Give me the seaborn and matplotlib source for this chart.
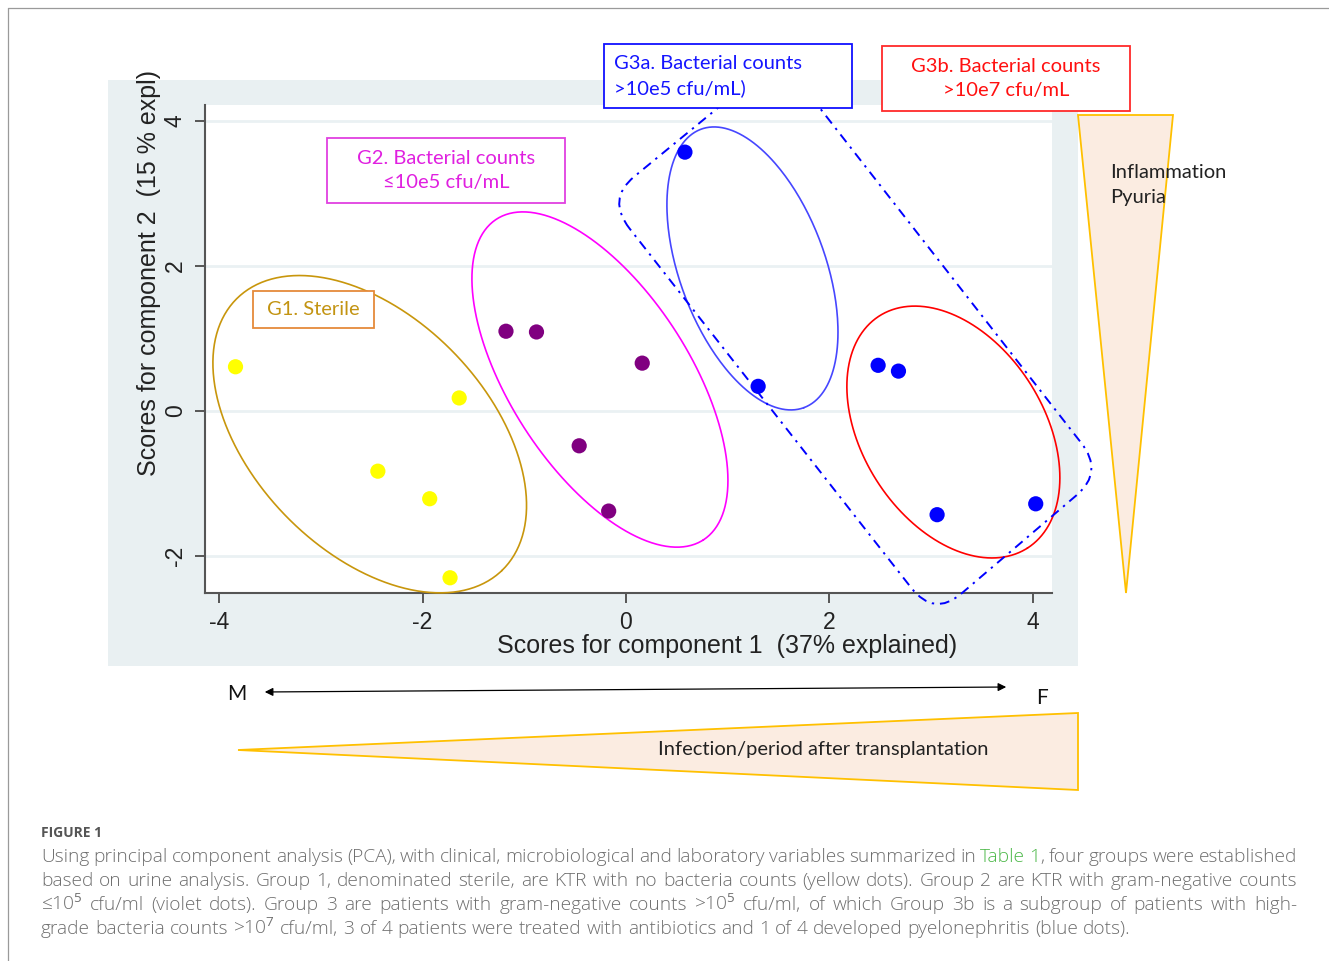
import re
import numpy as np
import pandas as pd
import matplotlib
matplotlib.use("Agg")
import matplotlib.pyplot as plt
import seaborn as sns
from matplotlib.patches import Polygon, Rectangle, PathPatch, FancyArrowPatch
from matplotlib.path import Path

# PCA scores
g1_pc1 = [-3.84, -1.64, -2.44, -1.93, -1.73]
g1_pc2 = [0.61, 0.18, -0.83, -1.21, -2.30]
g2_pc1 = [-1.18, -0.88, 0.16, -0.46, -0.17]
g2_pc2 = [1.10, 1.09, 0.66, -0.48, -1.38]
g3_pc1 = [0.58, 1.30, 2.48, 2.68, 3.06, 4.03]
g3_pc2 = [3.57, 0.34, 0.63, 0.55, -1.43, -1.28]

x_ticks = [-4, -2, 0, 2, 4]
y_ticks = [-2, 0, 2, 4]

# group outlines (centre, two semi-diameters, all in score units)
ellipses = {
    "G1": ((-2.52, -0.32), (1.30, -1.88), (0.83, 1.12), "#C8960C"),
    "G2": ((-0.256, 0.434), (1.017, -2.212), (0.742, 0.672), "#FF00FF"),
    "G3a": ((1.244, 1.966), (0.506, -1.920), (0.672, 0.349), "#4646FF"),
    "G3b": ((3.220, -0.290), (0.728, -1.601), (0.753, 0.673), "#FF0000"),
}
g3_hull = [(-0.19, 2.92), (1.514, 4.883), (4.70, -0.84), (3.03, -2.84)]

caption_lines = [
    "Using principal component analysis (PCA), with clinical, microbiological and laboratory variables summarized in [Table] [1], four groups were established",
    "based on urine analysis. Group 1, denominated sterile, are KTR with no bacteria counts (yellow dots). Group 2 are KTR with gram-negative counts",
    "\u226410$^5$ cfu/ml (violet dots). Group 3 are patients with gram-negative counts >10$^5$ cfu/ml, of which Group 3b is a subgroup of patients with high-",
    "grade bacteria counts >10$^7$ cfu/ml, 3 of 4 patients were treated with antibiotics and 1 of 4 developed pyelonephritis (blue dots).",
]

df = pd.DataFrame({
    "pc1": g1_pc1 + g2_pc1 + g3_pc1,
    "pc2": g1_pc2 + g2_pc2 + g3_pc2,
    "group": ["G1"] * len(g1_pc1) + ["G2"] * len(g2_pc1) + ["G3"] * len(g3_pc1),
})
cores = {"G1": "#FFFF00", "G2": "#800080", "G3": "#0000FF"}

sns.set_theme(style="white")
plt.rcParams["font.family"] = ["Lato", "DejaVu Sans"]
stata_font = ["Liberation Sans Narrow", "Liberation Sans", "DejaVu Sans"]
cap_font = ["Open Sans", "DejaVu Sans"]
plt.rcParams["mathtext.fontset"] = "custom"
plt.rcParams["mathtext.rm"] = "Open Sans"
plt.rcParams["mathtext.it"] = "Open Sans:italic"
plt.rcParams["mathtext.bf"] = "Open Sans:bold"

W, H = 1329, 961
fig = plt.figure(figsize=(W / 100, H / 100), dpi=100)


def fx(px):
    return px / W


def fy(py):
    return 1 - py / H


# moldura e fundo cinza do gráfico (estilo Stata)
fig.add_artist(plt.Line2D([fx(8), 1], [fy(8), fy(8)], color="#9a9a9a", lw=0.9))
fig.add_artist(plt.Line2D([fx(8), fx(8)], [fy(8), 0], color="#9a9a9a", lw=0.9))
fig.add_artist(Rectangle((fx(108), fy(666)), (1078 - 108) / W, (666 - 80) / H,
                         transform=fig.transFigure, facecolor="#E9F0F2",
                         edgecolor="none", zorder=-1))

ax = fig.add_axes([fx(205), fy(593), (1052 - 205) / W, (593 - 105) / H])
sns.scatterplot(data=df, x="pc1", y="pc2", hue="group", palette=cores,
                s=120, linewidth=0, legend=False, ax=ax, zorder=4)
ax.set_xlim(-4.14, 4.19)
ax.set_ylim(-2.51, 4.22)
ax.set_xticks(x_ticks)
ax.set_yticks(y_ticks)
ax.set_xticklabels([str(v) for v in x_ticks], family=stata_font, fontsize=16.5, color="#222222")
ax.set_yticklabels([str(v) for v in y_ticks], family=stata_font, fontsize=16.5, color="#222222",
                   rotation=90, va="center")
ax.tick_params(axis="both", length=7, width=1.4, color="#555555", pad=6, left=True, bottom=True)
ax.yaxis.grid(True, color="#EAF1F3", lw=2)
ax.xaxis.grid(False)
for s in ["top", "right"]:
    ax.spines[s].set_visible(False)
for s in ["left", "bottom"]:
    ax.spines[s].set_color("#555555")
    ax.spines[s].set_linewidth(1.5)
ax.set_xlabel("Scores for component 1  (37% explained)", family=stata_font, fontsize=18, color="#222222")
ax.set_ylabel("Scores for component 2  (15 % expl)", family=stata_font, fontsize=18, color="#222222")
ax.xaxis.set_label_coords(0.616, -0.085)
ax.yaxis.set_label_coords(-0.052, 0.655)

# elipses dos grupos
t = np.linspace(0, 2 * np.pi, 300)
for nome, (c, u, v, cor) in ellipses.items():
    ex = c[0] + u[0] * np.cos(t) + v[0] * np.sin(t)
    ey = c[1] + u[1] * np.cos(t) + v[1] * np.sin(t)
    ax.plot(ex, ey, color=cor, lw=1.2, clip_on=False, zorder=3)

# contorno tracejado do grupo 3 (retângulo de cantos arredondados)
fracs = [0.16, 0.07, 0.16, 0.07]  # fração de arredondamento por aresta
verts, codes = [], []
n = len(g3_hull)
for i in range(n):
    p = np.array(g3_hull[i])
    prev = np.array(g3_hull[i - 1])
    nxt = np.array(g3_hull[(i + 1) % n])
    a = p + fracs[i - 1] * (prev - p)
    b = p + fracs[i] * (nxt - p)
    verts.append(a)
    codes.append(Path.MOVETO if i == 0 else Path.LINETO)
    verts += [p, b]
    codes += [Path.CURVE3, Path.CURVE3]
verts.append(verts[0])
codes.append(Path.LINETO)
ax.add_patch(PathPatch(Path(verts, codes), fill=False, edgecolor="#0000FF", lw=1.4,
                       linestyle=(0, (5, 3, 1.2, 3)), clip_on=False, zorder=3))


# caixas de texto
def caixa(x0, y0, x1, y1, cor_borda, linhas, cor_texto, ha="center", tx=None):
    fig.add_artist(Rectangle((fx(x0), fy(y1)), (x1 - x0) / W, (y1 - y0) / H,
                             transform=fig.transFigure, facecolor="white",
                             edgecolor=cor_borda, lw=1.3, zorder=5))
    xt = (x0 + x1) / 2 if tx is None else tx
    fig.text(fx(xt), fy((y0 + y1) / 2), linhas, ha=ha, va="center", color=cor_texto,
             fontsize=14.5, linespacing=1.5, zorder=6)


caixa(253, 291, 374, 328, "#E58A3A", "G1. Sterile", "#C39412")
caixa(327, 138, 565, 203, "#E040E0", "G2. Bacterial counts\n\u226410e5 cfu/mL", "#E020E0")
caixa(604, 44, 852, 108, "#1010FF", "G3a. Bacterial counts\n>10e5 cfu/mL)", "#1515FF", ha="left", tx=614)
caixa(882, 46, 1130, 111, "#FF2A2A", "G3b. Bacterial counts\n>10e7 cfu/mL", "#FF1010")

# triângulos de gradiente
tri_v = Polygon([(fx(1078), fy(115)), (fx(1173), fy(115)), (fx(1126), fy(593))], closed=True,
                transform=fig.transFigure, facecolor="#FBECE1", edgecolor="#FFC000", lw=1.3, zorder=2)
fig.add_artist(tri_v)
fig.text(fx(1110), fy(185), "Inflammation\nPyuria", ha="left", va="center", fontsize=14.5,
         color="#222222", linespacing=1.5, zorder=6)
tri_h = Polygon([(fx(238), fy(750)), (fx(1078), fy(713)), (fx(1078), fy(790))], closed=True,
                transform=fig.transFigure, facecolor="#FBECE1", edgecolor="#FFC000", lw=1.3, zorder=2)
fig.add_artist(tri_h)
fig.text(fx(823), fy(750), "Infection/period after transplantation", ha="center", va="center",
         fontsize=14.5, color="#222222", zorder=6)

# seta M <-> F
fig.add_artist(FancyArrowPatch((fx(262), fy(692)), (fx(1009), fy(687)), transform=fig.transFigure,
                               arrowstyle="<|-|>", mutation_scale=12, color="black", lw=0.9))
fig.text(fx(237), fy(694), "M", ha="center", va="center", fontsize=15, color="#111111")
fig.text(fx(1042), fy(698), "F", ha="center", va="center", fontsize=15, color="#111111")

# legenda da figura (texto justificado)
fig.text(fx(41), fy(833), "FIGURE 1", ha="left", va="center", fontsize=10, weight="bold",
         color="#555555", family=cap_font)
renderer = fig.canvas.get_renderer()
cap_size = 13.8
cap_cor = "#6E6E6E"


def largura(txt):
    tt = fig.text(0, 0, txt, fontsize=cap_size, family=cap_font, weight="light")
    w = tt.get_window_extent(renderer).width
    tt.remove()
    return w


esp = largura("x x") - largura("xx")
x_ini, x_fim = 41, 1297
for k, linha in enumerate(caption_lines):
    yk = 862 + 24 * k
    palavras = []
    for palavra in linha.split(" "):
        partes = []
        for pedaco in re.findall(r"\[[^\]]*\]|[^\[]+", palavra):
            verde = pedaco.startswith("[")
            txt = pedaco.strip("[]")
            obj = fig.text(0, fy(yk), txt, fontsize=cap_size, ha="left", va="baseline",
                           family=cap_font, weight="light",
                           color="#4CB848" if verde else cap_cor)
            partes.append((obj, obj.get_window_extent(renderer).width))
        palavras.append(partes)
    larg = [sum(w for _, w in p) for p in palavras]
    if k < len(caption_lines) - 1:
        gap = (x_fim - x_ini - sum(larg)) / (len(larg) - 1)
    else:
        gap = esp
    x = x_ini
    for partes, wl in zip(palavras, larg):
        xx = x
        for obj, w in partes:
            obj.set_x(fx(xx))
            xx += w
        x += wl + gap

fig.savefig("out.png", dpi=100)
